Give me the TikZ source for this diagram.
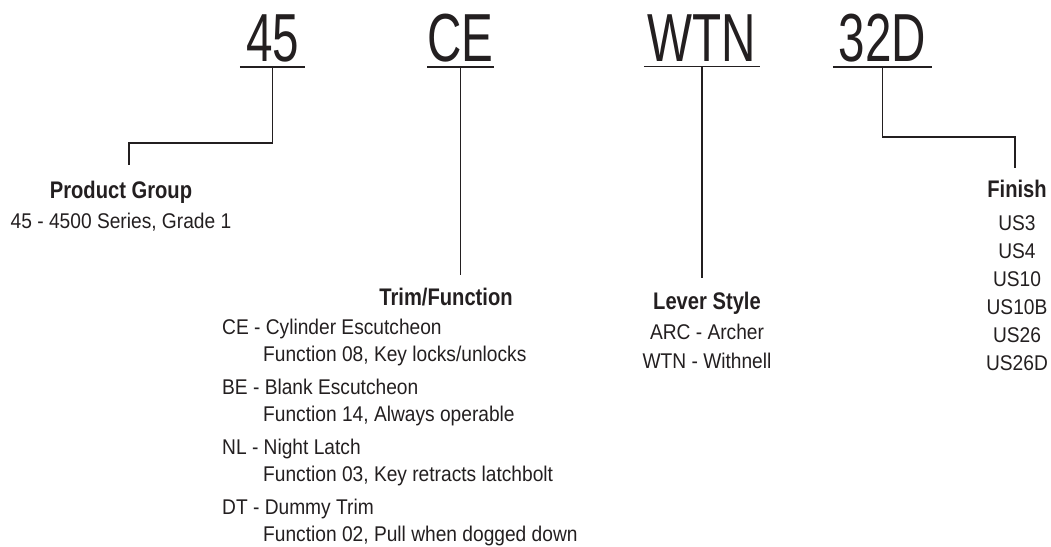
\documentclass[tikz,border=0pt]{standalone}
\usepackage{fontspec}
\setmainfont[FakeStretch=0.9]{Liberation Sans}
\newfontfamily\codefont[FakeStretch=0.7]{Liberation Sans}
\newfontfamily\headfont[FakeStretch=0.84]{Liberation Sans}
\usepackage{xcolor}
\usepackage{tikz}
\usetikzlibrary{positioning}
\definecolor{ink}{HTML}{231F20}

\begin{document}
\begin{tikzpicture}[
    x=1pt, y=-1pt,
    code/.style={font=\codefont\fontsize{68}{70}\selectfont, text=ink, inner xsep=0pt, inner ysep=5pt, anchor=base},
    head/.style={font=\headfont\bfseries\fontsize{24}{28}\selectfont, text=ink, inner sep=0pt, anchor=base},
    body/.style={font=\fontsize{21.3}{27}\selectfont, text=ink, inner sep=0pt},
    link/.style={draw=ink, line width=1.4pt}
]
\useasboundingbox (0,0) rectangle (1051,546);

% Part number
\node[code, minimum width=65pt] (c45) at (272.5,61) {45};
\node[code, minimum width=65pt] (cCE) at (460.5,61) {CE};
\node[code, minimum width=116pt] (cWTN) at (702,61) {WTN};
\node[code, minimum width=99pt] (c32D) at (882.5,61) {32D};

\draw[link] (c45.south west) -- (c45.south east);
\draw[link] (cCE.south west) -- (cCE.south east);
\draw[link] (cWTN.south west) -- (cWTN.south east);
\draw[link] (c32D.south west) -- (c32D.south east);

% Product group
\node[head] (pg) at (121,198) {Product Group};
\node[body, anchor=base] (pgtext) at (121,228) {45 - 4500 Series, Grade 1};

% Trim/Function
\node[head] (trim) at (446,305) {Trim/Function};
\node[body, anchor=north west, align=left] (trimtext) at (222,319) {CE - Cylinder Escutcheon\\
\hspace*{41pt}Function 08, Key locks/unlocks\\[6pt]
BE - Blank Escutcheon\\
\hspace*{41pt}Function 14, Always operable\\[6pt]
NL - Night Latch\\
\hspace*{41pt}Function 03, Key retracts latchbolt\\[6pt]
DT - Dummy Trim\\
\hspace*{41pt}Function 02, Pull when dogged down};

% Lever style
\node[head] (lever) at (707,309) {Lever Style};
\node[body, font=\fontsize{21.3}{29}\selectfont, anchor=north, align=center] (levertext) at (707,324) {ARC - Archer\\WTN - Withnell};

% Finish
\node[head] (fin) at (1017,197) {Finish};
\node[body, font=\fontsize{21.3}{28}\selectfont, anchor=north, align=center] (fintext) at (1017,215) {US3\\US4\\US10\\US10B\\US26\\US26D};

% Connectors
\coordinate (pgtop) at (129,165);
\coordinate (fintop) at (1015,168);
\draw[link] (c45.south) -- ++(0,76) -| (pgtop);
\draw[link] (cCE.south) -- ++(0,208);
\draw[link] (cWTN.south) -- ++(0,212);
\draw[link] (c32D.south) -- ++(0,70) -| (fintop);

\end{tikzpicture}
\end{document}
